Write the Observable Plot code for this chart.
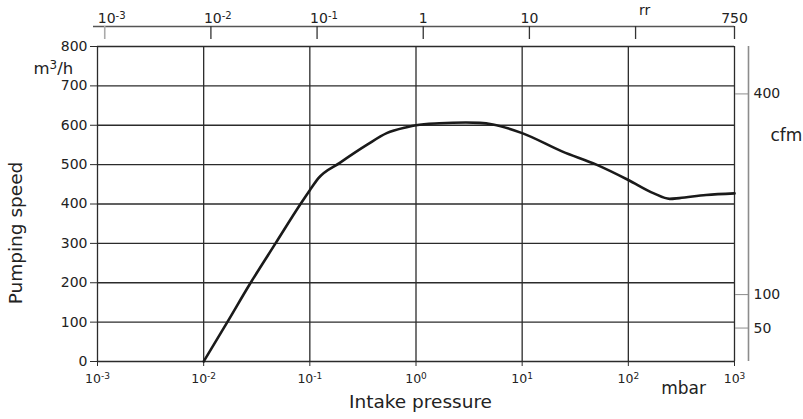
<!DOCTYPE html>
<html><head><meta charset="utf-8">
<script src="https://cdn.jsdelivr.net/npm/d3@7"></script>
<script src="https://cdn.jsdelivr.net/npm/@observablehq/plot@0.6"></script>
<style>
html,body{margin:0;padding:0;background:#fff;}
</style></head><body><div id="chart"></div>
<script>
// Pumping speed curve (intake pressure in mbar, speed in m3/h)
const pressure = [0.01, 0.0167, 0.0277, 0.0475, 0.0817, 0.1, 0.12, 0.193, 0.344, 0.53, 0.817, 1.0, 1.66, 2.95, 4.0, 5.3, 10, 24, 50, 100, 174, 245, 302, 540, 1000];
const speed    = [0,    100,    200,    300,    400,    435, 465,  505,   550,   580,  595,   600, 605,  607,  606, 602, 580, 533, 500, 461, 427, 413, 415, 423, 427];

// Axes
const decades = [1e-3, 1e-2, 1e-1, 1, 10, 100, 1000];
const speedTicks = [0, 100, 200, 300, 400, 500, 600, 700, 800];
const cfmTicks = [50, 100, 400];
const m3hPerCfm = 1.699;
const topTickMbar = [0.00117, 0.0117, 0.117, 1.17, 11.7, 117, 1000];
const topTickLabels = ["10^-3", "10^-2", "10^-1", "1", "10", "rr", "750"];

const data = pressure.map((p, i) => ({p, s: speed[i]}));
const topTicks = topTickMbar.map((m, i) => ({m, label: topTickLabels[i]}));

const ink = "#222";
const grid = "#2b2b2b";
const gray = "#8c8c8c";
const mid = {lineAnchor: "middle"};

const plot = Plot.plot({
  width: 803, height: 419,
  marginLeft: 97, marginRight: 69, marginTop: 46, marginBottom: 58,
  style: {fontFamily: "DejaVu Sans, sans-serif", color: ink, background: "#fff"},
  x: {type: "log", domain: [1e-3, 1e3]},
  y: {domain: [0, 800]},
  marks: [
    Plot.ruleX(decades, {stroke: grid, strokeWidth: 1.3}),
    Plot.ruleY(speedTicks, {stroke: grid, strokeWidth: 1.3}),
    Plot.axisY(speedTicks, {anchor: "left", tickSize: 7, tickPadding: 3, fontSize: 14, label: null, stroke: grid}),
    Plot.axisX(decades, {anchor: "bottom", tickSize: 5, tickPadding: 8, fontSize: 12.5, label: null, stroke: grid,
      tickFormat: d => "10^" + Math.round(Math.log10(d))}),
    // right cfm axis
    Plot.ruleX([1e3], {dx: 14, stroke: gray, strokeWidth: 1.6}),
    Plot.axisY(cfmTicks.map(c => c * m3hPerCfm), {anchor: "right", tickSize: 14, tickPadding: 5, fontSize: 14, label: null, stroke: gray,
      tickFormat: d => String(Math.round(d / m3hPerCfm))}),
    // top torr axis
    Plot.ruleY([800], {dy: -20, insetLeft: -4, stroke: "#555", strokeWidth: 1.5}),
    Plot.ruleX(topTicks.slice(1), {x: "m", insetTop: -20, insetBottom: 322, stroke: "#333", strokeWidth: 1.3}),
    Plot.ruleX(topTicks.slice(0, 1), {x: "m", insetTop: -20, insetBottom: 322, stroke: "#aaa", strokeWidth: 1.6}),
    Plot.text(topTicks, {...mid, filter: d => d.label.includes("^"), x: "m", text: "label", frameAnchor: "top", textAnchor: "start", dx: -7, dy: -27.5, fontSize: 14}),
    Plot.text(topTicks, {...mid, filter: d => !d.label.includes("^") && d.label !== "rr", x: "m", text: "label", frameAnchor: "top", textAnchor: "middle", dy: -27.5, fontSize: 14}),
    Plot.text(topTicks, {...mid, filter: d => d.label === "rr", x: "m", text: "label", frameAnchor: "top", textAnchor: "middle", dx: 9, dy: -35.5, fontSize: 14}),
    // curve
    Plot.line(data, {x: "p", y: "s", stroke: "#1a1a1a", strokeWidth: 2.6, curve: "monotone-x"}),
    // titles
    Plot.text(["m^3^/h"], {...mid, text: d => d, frameAnchor: "top-left", textAnchor: "end", dx: -24.3, dy: 22.7, fontSize: 16.5}),
    Plot.text(["Pumping speed"], {...mid, text: d => d, frameAnchor: "left", textAnchor: "middle", rotate: -90, dx: -81, dy: 29, fontSize: 18.5}),
    Plot.text(["cfm"], {...mid, text: d => d, frameAnchor: "top-right", textAnchor: "start", dx: 36, dy: 88.6, fontSize: 17}),
    Plot.text(["mbar"], {...mid, text: d => d, frameAnchor: "bottom-right", textAnchor: "middle", dx: -51, dy: 26.6, fontSize: 17}),
    Plot.text(["Intake pressure"], {...mid, text: d => d, frameAnchor: "bottom", textAnchor: "middle", dx: 4.5, dy: 41, fontSize: 18.5})
  ]
});

// superscripts: parts between ^ are raised
const ns = "http://www.w3.org/2000/svg";
plot.querySelectorAll("text").forEach(el => {
  const t = el.textContent;
  if (!t.includes("^")) return;
  const parts = t.split("^");
  el.textContent = "";
  parts.forEach((part, i) => {
    if (!part) return;
    const s = document.createElementNS(ns, "tspan");
    s.textContent = part;
    if (i % 2 === 1) {
      s.setAttribute("font-size", "72%");
      s.setAttribute("dy", "-0.45em");
    } else if (i > 0) {
      s.setAttribute("dy", "0.324em");
    }
    el.appendChild(s);
  });
});

document.getElementById("chart").appendChild(plot);
</script>
</body></html>
